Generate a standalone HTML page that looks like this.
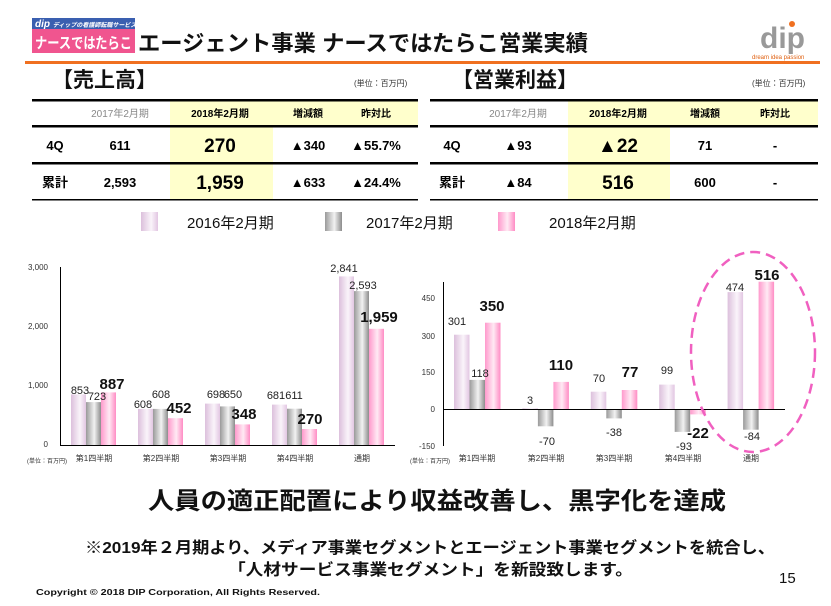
<!DOCTYPE html>
<html><head><meta charset="utf-8"><style>
body{margin:0;width:831px;height:606px;background:#fff;overflow:hidden;position:relative;font-family:"Liberation Sans","Noto Sans CJK JP",sans-serif;}
</style></head><body>
<svg width="831" height="606" style="position:absolute;left:0;top:0" font-family="Liberation Sans, Noto Sans CJK JP, sans-serif">
<defs>
<linearGradient id="g16" x1="0" x2="1"><stop offset="0" stop-color="#dcc0dc"/><stop offset="0.6" stop-color="#faf4fa"/><stop offset="1" stop-color="#e2c6e2"/></linearGradient>
<linearGradient id="g17" x1="0" x2="1"><stop offset="0" stop-color="#9a9a9a"/><stop offset="0.55" stop-color="#f2f2f2"/><stop offset="1" stop-color="#8c8c8c"/></linearGradient>
<linearGradient id="g18" x1="0" x2="1"><stop offset="0" stop-color="#ff99cc"/><stop offset="0.55" stop-color="#ffeaf4"/><stop offset="1" stop-color="#ff8cc4"/></linearGradient>
</defs>
<rect x="32" y="18" width="103" height="11" fill="#3a5fb0"/>
<text x="35" y="27" font-size="10" font-weight="bold" fill="#fff" font-style="italic">dip <tspan font-size="6">ディップの看護師転職サービス</tspan></text>
<rect x="32" y="29" width="103" height="24" fill="#f0558f"/>
<text x="35" y="48" font-size="15" font-weight="bold" fill="#fff" textLength="97" lengthAdjust="spacingAndGlyphs">ナースではたらこ</text>
<text x="138" y="51" font-size="22" font-weight="bold" fill="#111" textLength="450" lengthAdjust="spacingAndGlyphs">エージェント事業 ナースではたらこ営業実績</text>
<text x="760" y="48" font-size="30" font-weight="bold" fill="#999">dip</text>
<circle cx="792" cy="24" r="3" fill="#f07020"/>
<text x="752" y="59" font-size="6" fill="#e06010">dream idea passion</text>
<rect x="25" y="61" width="795" height="3" fill="#f07020"/>
<text x="52" y="87" font-size="21" font-weight="bold" fill="#111">【売上高】</text>
<text x="354" y="86" font-size="8" fill="#333">(単位：百万円)</text>
<text x="452" y="87" font-size="21" font-weight="bold" fill="#111">【営業利益】</text>
<text x="752" y="86" font-size="8" fill="#333">(単位：百万円)</text>
<rect x="170" y="101" width="248" height="25" fill="#ffffcc"/>
<rect x="170" y="126" width="103" height="74" fill="#ffffcc"/>
<rect x="32" y="99" width="386" height="2.5" fill="#000"/>
<rect x="32" y="125" width="386" height="2.5" fill="#000"/>
<rect x="32" y="162" width="386" height="2.5" fill="#000"/>
<rect x="32" y="199" width="386" height="1.5" fill="#000"/>
<g font-size="10" font-weight="bold" text-anchor="middle">
<text x="120" y="117" fill="#888" font-weight="normal">2017年2月期</text>
<text x="220" y="117">2018年2月期</text><text x="308" y="117">増減額</text><text x="376" y="117">昨対比</text>
</g>
<g font-size="13" font-weight="bold" text-anchor="middle">
<text x="55" y="150">4Q</text><text x="120" y="150">611</text><text x="220" y="152" font-size="19">270</text><text x="308" y="150">▲340</text><text x="376" y="150">▲55.7%</text>
<text x="55" y="187">累計</text><text x="120" y="187">2,593</text><text x="220" y="189" font-size="19">1,959</text><text x="308" y="187">▲633</text><text x="376" y="187">▲24.4%</text>
</g>
<rect x="568" y="101" width="250" height="25" fill="#ffffcc"/>
<rect x="568" y="126" width="102" height="74" fill="#ffffcc"/>
<rect x="430" y="99" width="388" height="2.5" fill="#000"/>
<rect x="430" y="125" width="388" height="2.5" fill="#000"/>
<rect x="430" y="162" width="388" height="2.5" fill="#000"/>
<rect x="430" y="199" width="388" height="1.5" fill="#000"/>
<g font-size="10" font-weight="bold" text-anchor="middle">
<text x="518" y="117" fill="#888" font-weight="normal">2017年2月期</text>
<text x="618" y="117">2018年2月期</text><text x="705" y="117">増減額</text><text x="775" y="117">昨対比</text>
</g>
<g font-size="13" font-weight="bold" text-anchor="middle">
<text x="452" y="150">4Q</text><text x="518" y="150">▲93</text><text x="618" y="152" font-size="19">▲22</text><text x="705" y="150">71</text><text x="775" y="150">-</text>
<text x="452" y="187">累計</text><text x="518" y="187">▲84</text><text x="618" y="189" font-size="19">516</text><text x="705" y="187">600</text><text x="775" y="187">-</text>
</g>
<rect x="141" y="212" width="17" height="19" fill="url(#g16)"/>
<text x="187" y="228" font-size="15" fill="#111">2016年2月期</text>
<rect x="325" y="212" width="17" height="19" fill="url(#g17)"/>
<text x="366" y="228" font-size="15" fill="#111">2017年2月期</text>
<rect x="498" y="212" width="17" height="19" fill="url(#g18)"/>
<text x="549" y="228" font-size="15" fill="#111">2018年2月期</text>
<g font-size="8" fill="#333" text-anchor="end">
<text x="48" y="270">3,000</text><text x="48" y="329">2,000</text><text x="48" y="388">1,000</text><text x="48" y="447">0</text>
</g>
<rect x="71" y="394.4" width="15" height="50.6" fill="url(#g16)"/><rect x="86" y="402.1" width="15" height="42.9" fill="url(#g17)"/><rect x="101" y="392.4" width="15" height="52.6" fill="url(#g18)"/>
<rect x="138" y="408.9" width="15" height="36.1" fill="url(#g16)"/><rect x="153" y="408.9" width="15" height="36.1" fill="url(#g17)"/><rect x="168" y="418.2" width="15" height="26.8" fill="url(#g18)"/>
<rect x="205" y="403.6" width="15" height="41.4" fill="url(#g16)"/><rect x="220" y="406.4" width="15" height="38.6" fill="url(#g17)"/><rect x="235" y="424.4" width="15" height="20.6" fill="url(#g18)"/>
<rect x="272" y="404.6" width="15" height="40.4" fill="url(#g16)"/><rect x="287" y="408.7" width="15" height="36.3" fill="url(#g17)"/><rect x="302" y="429" width="15" height="16" fill="url(#g18)"/>
<rect x="339" y="276.4" width="15" height="168.6" fill="url(#g16)"/><rect x="354" y="291.1" width="15" height="153.9" fill="url(#g17)"/><rect x="369" y="328.8" width="15" height="116.2" fill="url(#g18)"/>
<line x1="60.5" y1="267" x2="60.5" y2="445" stroke="#000"/>
<line x1="60" y1="445.5" x2="395" y2="445.5" stroke="#000"/>
<g font-size="11" fill="#222" text-anchor="middle">
<text x="80" y="394">853</text><text x="97" y="400">723</text>
<text x="143" y="408">608</text><text x="161" y="398">608</text>
<text x="216" y="398">698</text><text x="233" y="398">650</text>
<text x="276" y="399">681</text><text x="294" y="399">611</text>
<text x="344" y="272">2,841</text><text x="363" y="289">2,593</text>
</g>
<g font-size="15" font-weight="bold" fill="#111" text-anchor="middle">
<text x="112" y="389">887</text><text x="179" y="413">452</text><text x="244" y="419">348</text><text x="310" y="424">270</text><text x="379" y="322">1,959</text>
</g>
<g font-size="8" fill="#333" text-anchor="middle">
<text x="94" y="461">第1四半期</text><text x="161" y="461">第2四半期</text><text x="228" y="461">第3四半期</text><text x="295" y="461">第4四半期</text><text x="362" y="461">通期</text>
</g>
<text x="27" y="463" font-size="6" fill="#333">(単位：百万円)</text>
<g font-size="8" fill="#333" text-anchor="end">
<text x="435" y="301">450</text><text x="435" y="339">300</text><text x="435" y="375">150</text><text x="435" y="412">0</text><text x="435" y="449">-150</text>
</g>
<rect x="454" y="334.7" width="15.5" height="74.3" fill="url(#g16)"/><rect x="469.5" y="379.9" width="15.5" height="29.1" fill="url(#g17)"/><rect x="485" y="322.7" width="15.5" height="86.3" fill="url(#g18)"/>
<rect x="522.4" y="408.3" width="15.5" height="0.7" fill="url(#g16)"/><rect x="537.9" y="409" width="15.5" height="17.3" fill="url(#g17)"/><rect x="553.4" y="381.9" width="15.5" height="27.1" fill="url(#g18)"/>
<rect x="590.8" y="391.7" width="15.5" height="17.3" fill="url(#g16)"/><rect x="606.3" y="409" width="15.5" height="9.4" fill="url(#g17)"/><rect x="621.8" y="390" width="15.5" height="19" fill="url(#g18)"/>
<rect x="659.2" y="384.6" width="15.5" height="24.4" fill="url(#g16)"/><rect x="674.7" y="409" width="15.5" height="22.9" fill="url(#g17)"/><rect x="690.2" y="409" width="15.5" height="5.4" fill="url(#g18)"/>
<rect x="727.6" y="292.1" width="15.5" height="116.9" fill="url(#g16)"/><rect x="743.1" y="409" width="15.5" height="20.7" fill="url(#g17)"/><rect x="758.6" y="281.7" width="15.5" height="127.3" fill="url(#g18)"/>
<line x1="443.5" y1="282" x2="443.5" y2="446" stroke="#000"/>
<line x1="443" y1="409.5" x2="785" y2="409.5" stroke="#000"/>
<g font-size="11" fill="#222" text-anchor="middle">
<text x="457" y="325">301</text><text x="480" y="377">118</text>
<text x="530" y="404">3</text><text x="547" y="445">-70</text>
<text x="599" y="382">70</text><text x="614" y="436">-38</text>
<text x="667" y="374">99</text><text x="684" y="450">-93</text>
<text x="735" y="291">474</text><text x="752" y="440">-84</text>
</g>
<g font-size="15" font-weight="bold" fill="#111" text-anchor="middle">
<text x="492" y="311">350</text><text x="561" y="370">110</text><text x="630" y="377">77</text><text x="698" y="438">-22</text><text x="767" y="280">516</text>
</g>
<g font-size="8" fill="#333" text-anchor="middle">
<text x="477" y="461">第1四半期</text><text x="546" y="461">第2四半期</text><text x="614" y="461">第3四半期</text><text x="683" y="461">第4四半期</text><text x="751" y="461">通期</text>
</g>
<text x="410" y="463" font-size="6" fill="#333">(単位：百万円)</text>
<ellipse cx="753" cy="352" rx="62" ry="100" fill="none" stroke="#f060c0" stroke-width="2.5" stroke-dasharray="10,6"/>
<text x="148" y="509" font-size="24" font-weight="bold" fill="#111" textLength="578" lengthAdjust="spacingAndGlyphs">人員の適正配置により収益改善し、黒字化を達成</text>
<text x="85" y="553" font-size="16" font-weight="bold" fill="#111" textLength="690" lengthAdjust="spacingAndGlyphs">※2019年２月期より、メディア事業セグメントとエージェント事業セグメントを統合し、</text>
<text x="228" y="575" font-size="16" font-weight="bold" fill="#111" textLength="405" lengthAdjust="spacingAndGlyphs">「人材サービス事業セグメント」を新設致します。</text>
<text x="779" y="583" font-size="15" fill="#111">15</text>
<text x="36" y="595" font-size="8" font-weight="bold" fill="#111" textLength="284" lengthAdjust="spacingAndGlyphs">Copyright © 2018   DIP Corporation, All Rights Reserved.</text>
</svg>
</body></html>
